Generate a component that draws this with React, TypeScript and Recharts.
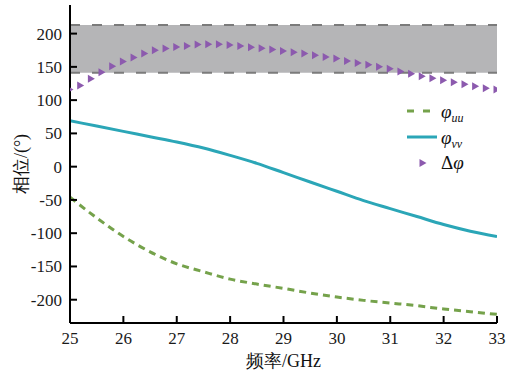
import React from 'react';
import { ComposedChart, Line, Scatter, XAxis, YAxis, ReferenceArea, ReferenceLine } from 'recharts';

// frequency grid for the two phase curves (GHz)
const curveFreq = [25, 25.5, 26, 26.5, 27, 27.5, 28, 28.5, 29, 29.5, 30, 30.5, 31, 31.5, 32, 32.5, 33];
const phiUU = [-46, -77, -105, -128, -146, -158, -169, -176.5, -183, -190, -196, -201, -205, -209, -214, -218, -222];
const phiVV = [69, 61, 53, 45, 37, 28, 17, 5, -9, -23, -37, -51, -63, -75, -87, -97, -105];

// phase difference, sampled every 0.2 GHz
const deltaFreq = [
  25, 25.2, 25.4, 25.6, 25.8, 26, 26.2, 26.4, 26.6, 26.8, 27, 27.2, 27.4, 27.6, 27.8, 28, 28.2, 28.4, 28.6, 28.8, 29,
  29.2, 29.4, 29.6, 29.8, 30, 30.2, 30.4, 30.6, 30.8, 31, 31.2, 31.4, 31.6, 31.8, 32, 32.2, 32.4, 32.6, 32.8, 33,
];
const deltaPhi = [
  116, 122, 132, 142, 151, 158, 164, 170, 175, 177.5, 180, 181.5, 183.5, 184, 184, 183, 181.5, 179.5, 178, 176, 174,
  172, 170, 167.5, 165, 162.5, 159, 156, 153, 150, 147, 143, 139.5, 136, 133, 130, 127, 124, 121, 118, 116,
];

const xTicks = [25, 26, 27, 28, 29, 30, 31, 32, 33];
const yTicks = [-200, -150, -100, -50, 0, 50, 100, 150, 200];
const bandLow = 141;
const bandHigh = 213;

const SERIF = "'Liberation Serif', 'Times New Roman', Times, 'DejaVu Serif', serif";
const GREEN = '#75a24b';
const TEAL = '#2ba6b7';
const PURPLE = '#8c5aae';
const textStyle = { fontFamily: SERIF };

const curveData = curveFreq.map((f, i) => ({ f, uu: phiUU[i], vv: phiVV[i] }));
const deltaData = deltaFreq.map((f, i) => ({ f, d: deltaPhi[i] }));

const Triangle = (props: any) => {
  const { cx, cy } = props;
  return <polygon points={`${cx - 3.5},${cy - 4} ${cx + 3.5},${cy} ${cx - 3.5},${cy + 4}`} fill={PURPLE} />;
};

const XTick = ({ x, y, payload }: any) => (
  <text x={x} y={y} dy={12} textAnchor="middle" fontSize={17} fill="#1a1a1a" style={textStyle}>
    {payload.value}
  </text>
);

const YTick = ({ x, y, payload }: any) => (
  <text x={x} y={y} dy={6} textAnchor="end" fontSize={17} fill="#1a1a1a" style={textStyle}>
    {payload.value}
  </text>
);

const XLabel = ({ viewBox }: any) => (
  <text
    x={viewBox.x + viewBox.width / 2}
    y={viewBox.y + viewBox.height - 7}
    textAnchor="middle"
    fontSize={18}
    fill="#111"
    style={textStyle}
  >
    频率/GHz
  </text>
);

const YLabel = ({ viewBox }: any) => {
  const cx = viewBox.x + 21;
  const cy = viewBox.y + viewBox.height / 2;
  return (
    <text
      x={cx}
      y={cy}
      transform={`rotate(-90 ${cx} ${cy})`}
      textAnchor="middle"
      dominantBaseline="central"
      fontSize={18}
      fill="#111"
      style={textStyle}
    >
      相位/(°)
    </text>
  );
};

function PhaseLegend() {
  return (
    <svg width={90} height={85} style={{ position: 'absolute', left: 400, top: 98, fontFamily: SERIF }}>
      <line x1={7} y1={13} x2={31} y2={13} stroke={GREEN} strokeWidth={3} strokeDasharray="7 9" />
      <text x={41} y={20} fontSize={19} fontStyle="italic" fill="#111">
        φ<tspan fontSize={12} dy={4}>uu</tspan>
      </text>
      <line x1={7} y1={39} x2={37} y2={39} stroke={TEAL} strokeWidth={3} />
      <text x={41} y={46} fontSize={19} fontStyle="italic" fill="#111">
        φ<tspan fontSize={12} dy={4}>vv</tspan>
      </text>
      <polygon points="19.5,61 26.5,65 19.5,69" fill={PURPLE} />
      <text x={41} y={71} fontSize={19} fill="#111">
        Δ<tspan fontStyle="italic">φ</tspan>
      </text>
    </svg>
  );
}

export default function App() {
  return (
    <div style={{ position: 'absolute', left: 0, top: 0, width: 519, height: 374, background: '#fff', fontFamily: SERIF }}>
      <ComposedChart width={519} height={374} margin={{ top: 5, right: 22, bottom: 0, left: 0 }}>
        <ReferenceArea x1={25} x2={33} y1={bandLow} y2={bandHigh} fill="#b5b5b7" fillOpacity={1} stroke="none" />
        <ReferenceLine y={bandHigh} stroke="#7b7b7b" strokeWidth={2} strokeDasharray="10 12" />
        <ReferenceLine y={bandLow} stroke="#7b7b7b" strokeWidth={2} strokeDasharray="10 12" />
        <XAxis
          dataKey="f"
          type="number"
          domain={[25, 33]}
          ticks={xTicks}
          allowDataOverflow
          height={51}
          tickSize={-7}
          tickMargin={16}
          tick={<XTick />}
          axisLine={{ stroke: '#000', strokeWidth: 2 }}
          tickLine={{ stroke: '#000', strokeWidth: 2 }}
          label={<XLabel />}
        />
        <YAxis
          type="number"
          domain={[-235, 243]}
          ticks={yTicks}
          allowDataOverflow
          width={70}
          tickSize={-7}
          tickMargin={15}
          tick={<YTick />}
          axisLine={{ stroke: '#000', strokeWidth: 2 }}
          tickLine={{ stroke: '#000', strokeWidth: 2 }}
          label={<YLabel />}
        />
        <Line
          data={curveData}
          dataKey="uu"
          type="monotone"
          stroke={GREEN}
          strokeWidth={3}
          strokeDasharray="7 5"
          dot={false}
          isAnimationActive={false}
        />
        <Line
          data={curveData}
          dataKey="vv"
          type="monotone"
          stroke={TEAL}
          strokeWidth={3}
          dot={false}
          isAnimationActive={false}
        />
        <Scatter data={deltaData} dataKey="d" shape={<Triangle />} isAnimationActive={false} />
      </ComposedChart>
      <PhaseLegend />
    </div>
  );
}
